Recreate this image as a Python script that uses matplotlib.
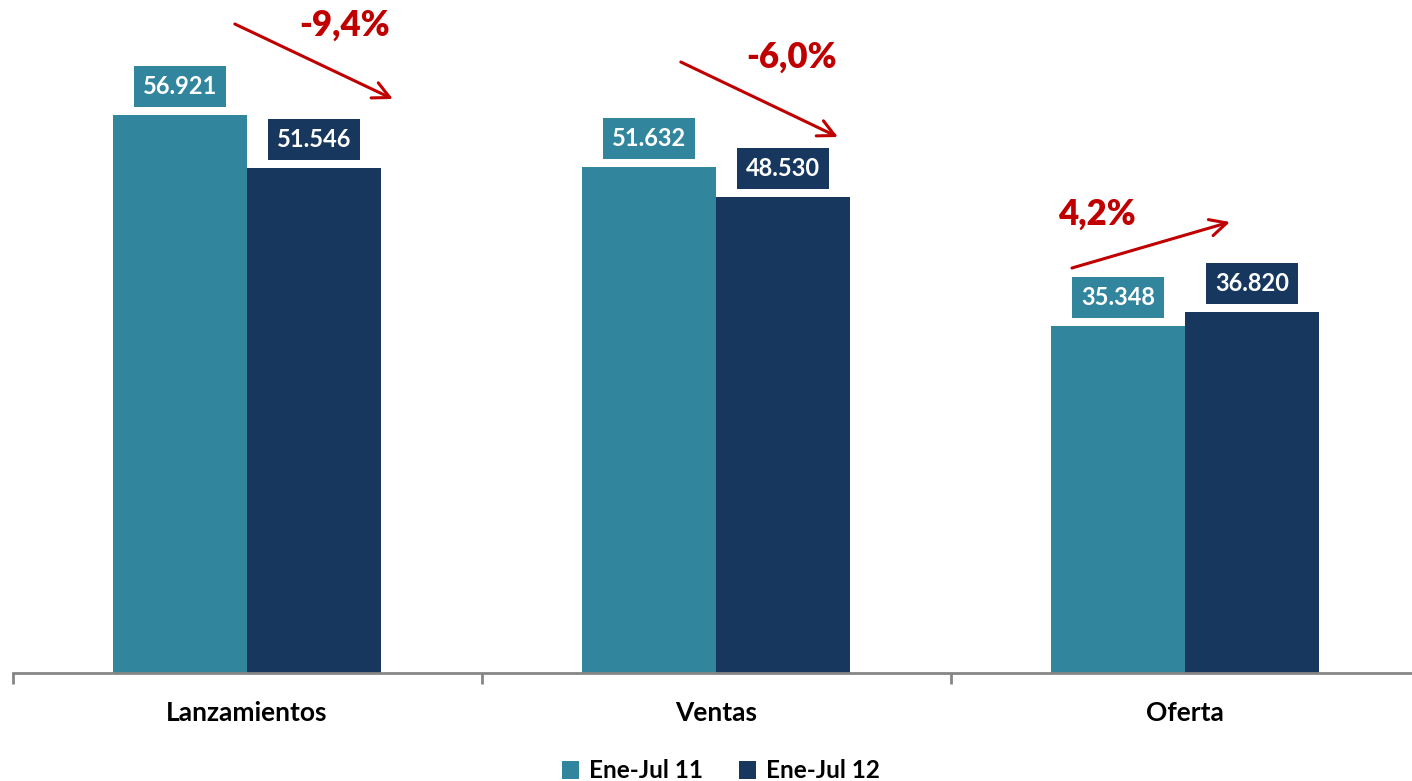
import numpy as np
import matplotlib
matplotlib.use('Agg')
import matplotlib.pyplot as plt

categories = ['Lanzamientos', 'Ventas', 'Oferta']
series = ['Ene-Jul 11', 'Ene-Jul 12']
ene_jul_11 = [56921, 51632, 35348]
ene_jul_12 = [51546, 48530, 36820]

teal = '#31859C'
navy = '#17375E'
red = '#C00000'

plt.rcParams['font.family'] = ['Lato', 'DejaVu Sans']
plt.rcParams['font.weight'] = 'bold'

fig = plt.figure(figsize=(14.12, 7.81), dpi=100)
ax = fig.add_axes([12.5 / 1412, 108 / 781, 1407 / 1412, 673 / 781])

x = np.arange(len(categories))
w = 0.2857
b1 = ax.bar(x - w / 2, ene_jul_11, w, color=teal, label=series[0])
b2 = ax.bar(x + w / 2, ene_jul_12, w, color=navy, label=series[1])

ax.set_xlim(-0.5, 2.5)
ax.set_ylim(0, 68652)

def fmt(v):
    return f'{v:,}'.replace(',', '.')

for bars, col in ((b1, teal), (b2, navy)):
    for r in bars:
        v = r.get_height()
        ax.annotate(fmt(int(v)), (r.get_x() + r.get_width() / 2, v),
                    xytext=(0, 12.3), textcoords='offset points',
                    ha='center', va='bottom', color='white',
                    fontsize=17, fontweight='bold',
                    bbox=dict(boxstyle='square,pad=0.38', fc=col, ec='none'))

# variation arrows and labels
arrows = [((-0.026, 66205), (0.311, 58555)),
          ((-0.075, 62328), (0.260, 54677)),
          ((-0.241, 41313), (0.096, 46006))]
pct_pos = [(0.207, 66102), (0.160, 62838), (-0.188, 46822)]
for i in range(len(categories)):
    change = (ene_jul_12[i] / ene_jul_11[i] - 1) * 100
    txt = f'{change:.1f}%'.replace('.', ',')
    (sx, sy), (ex, ey) = arrows[i]
    ax.annotate('', xy=(i + ex, ey), xytext=(i + sx, sy),
                arrowprops=dict(arrowstyle='->', color=red, lw=2.2,
                                mutation_scale=30, shrinkA=0, shrinkB=0),
                annotation_clip=False)
    px, py = pct_pos[i]
    ax.text(i + px, py, txt, color=red, fontsize=25, fontweight='heavy',
            ha='center', va='center', clip_on=False)

for s in ['top', 'right', 'left']:
    ax.spines[s].set_visible(False)
ax.spines['bottom'].set_color('#868686')
ax.spines['bottom'].set_linewidth(2)
ax.set_yticks([])
ax.set_xticks([-0.5, 0.5, 1.5, 2.5], minor=False)
ax.set_xticklabels([])
ax.tick_params(axis='x', which='major', length=8, width=2, color='#868686')
ax.set_xticks(x, minor=True)
ax.set_xticklabels(categories, minor=True, fontsize=19, fontweight='bold')
ax.tick_params(axis='x', which='minor', length=0, pad=20)

fig.legend(loc='center', bbox_to_anchor=(721 / 1412, 10 / 781), ncol=2,
           frameon=False, handlelength=0.7, handleheight=0.7,
           handletextpad=0.4, columnspacing=1.5,
           prop={'weight': 'bold', 'size': 17.5})

fig.savefig('out.png', dpi=100)
